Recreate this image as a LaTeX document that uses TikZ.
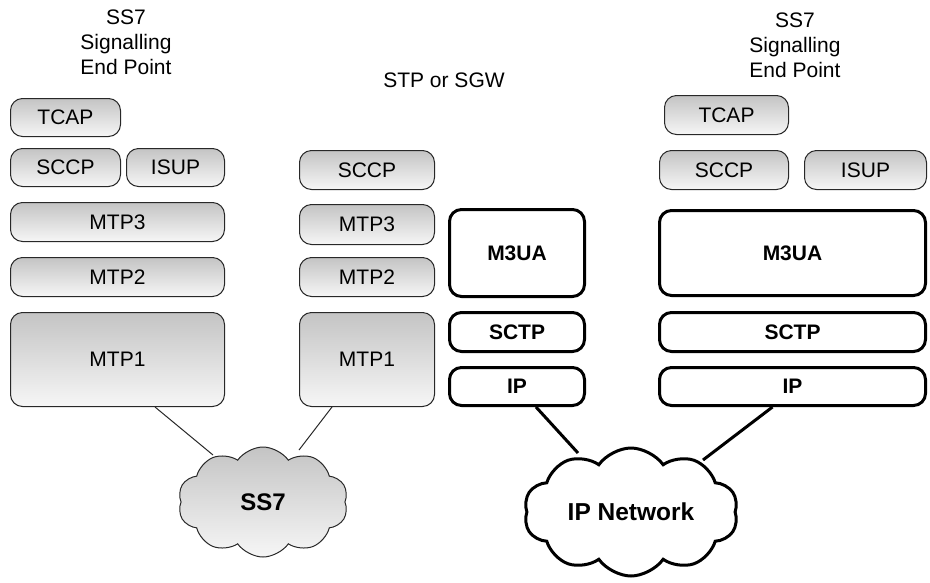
\documentclass[tikz,border=0pt]{standalone}
\usepackage{fontspec}
\setmainfont{Liberation Sans}
\usetikzlibrary{shapes.symbols,calc}
\definecolor{gtop}{RGB}{196,196,196}
\definecolor{gbot}{RGB}{246,246,246}
\definecolor{gline}{RGB}{40,40,40}
\tikzset{
  lbl/.style={font=\fontsize{21}{25}\selectfont},
  sz/.style 2 args={minimum width=#1pt, minimum height=#2pt},
  gbox/.style={lbl, rounded corners=12pt, draw=gline, line width=1pt, top color=gtop, bottom color=gbot, inner sep=0pt},
  bbox/.style={rounded corners=12pt, draw=black, line width=3pt, fill=white, inner sep=0pt, font=\fontsize{21}{25}\selectfont\bfseries},
  thinlink/.style={draw=gline, line width=1pt},
  thicklink/.style={draw=black, line width=3pt},
  ttl/.style={lbl, align=center},
}
\begin{document}
\begin{tikzpicture}[x=1pt,y=-1pt]
\useasboundingbox (0,0) rectangle (930,582);
% titles
\node[ttl] (tL) at (126,42) {SS7\\Signalling\\End Point};
\node[ttl] (tR) at (795,45) {SS7\\Signalling\\End Point};
\node[lbl] (tM) at (444,80) {STP or SGW};
% left SS7 stack
\node[gbox, sz={110}{38}] (tcapL) at (65.5,117.5) {TCAP};
\node[gbox, sz={110}{38}] (sccpL) at (65.5,167.5) {SCCP};
\node[gbox, sz={98}{38}] (isupL) at (175.5,167.5) {ISUP};
\node[gbox, sz={214}{39}] (mtp3L) at (117.5,222) {MTP3};
\node[gbox, sz={214}{39}] (mtp2L) at (117.5,277) {MTP2};
\node[gbox, sz={214}{94}] (mtp1L) at (117.5,359.5) {MTP1};
% middle SS7 stack
\node[gbox, sz={135}{39}] (sccpM) at (367,170) {SCCP};
\node[gbox, sz={135}{40}] (mtp3M) at (367,224.5) {MTP3};
\node[gbox, sz={135}{39}] (mtp2M) at (367,277) {MTP2};
\node[gbox, sz={135}{94}] (mtp1M) at (367,359.5) {MTP1};
% middle IP stack
\node[bbox, sz={135}{87}] (m3uaM) at (517,253) {M3UA};
\node[bbox, sz={135}{39}] (sctpM) at (517,332) {SCTP};
\node[bbox, sz={135}{38}] (ipM) at (517,386.5) {IP};
% right stack
\node[gbox, sz={124}{39}] (tcapR) at (726.5,115) {TCAP};
\node[gbox, sz={129}{39}] (sccpR) at (724,170) {SCCP};
\node[gbox, sz={122}{39}] (isupR) at (865.5,170) {ISUP};
\node[bbox, sz={266}{85}] (m3uaR) at (792.5,253) {M3UA};
\node[bbox, sz={266}{39}] (sctpR) at (792.5,332) {SCTP};
\node[bbox, sz={266}{38}] (ipR) at (792.5,386.5) {IP};
% cloud centres and link ends
\coordinate (ss7c) at (263,502);
\coordinate (ipc) at (631,512);
\coordinate (e1) at (213,455);
\coordinate (e2) at (299,450);
\coordinate (e3) at (578,453);
\coordinate (e4) at (703,460);
% links
\draw[thinlink] ([xshift=37.5pt]mtp1L.south) -- (e1);
\draw[thinlink] ([xshift=-35pt]mtp1M.south) -- (e2);
\draw[thicklink] ([xshift=19pt]ipM.south) -- (e3);
\draw[thicklink] ([xshift=-20pt]ipR.south) -- (e4);
% clouds
\node[cloud, cloud puffs=10, cloud puff arc=110, cloud ignores aspect, minimum width=170pt, minimum height=110pt, inner sep=0pt, draw=gline, line width=1pt, top color=gtop, bottom color=gbot, font=\fontsize{24}{28}\selectfont\bfseries] (ss7) at (ss7c) {SS7};
\node[cloud, cloud puffs=10, cloud puff arc=110, cloud ignores aspect, minimum width=214pt, minimum height=128pt, inner sep=0pt, draw=black, line width=3pt, fill=white, font=\fontsize{24.5}{28}\selectfont\bfseries] (ipn) at (ipc) {IP Network};
\end{tikzpicture}
\end{document}
